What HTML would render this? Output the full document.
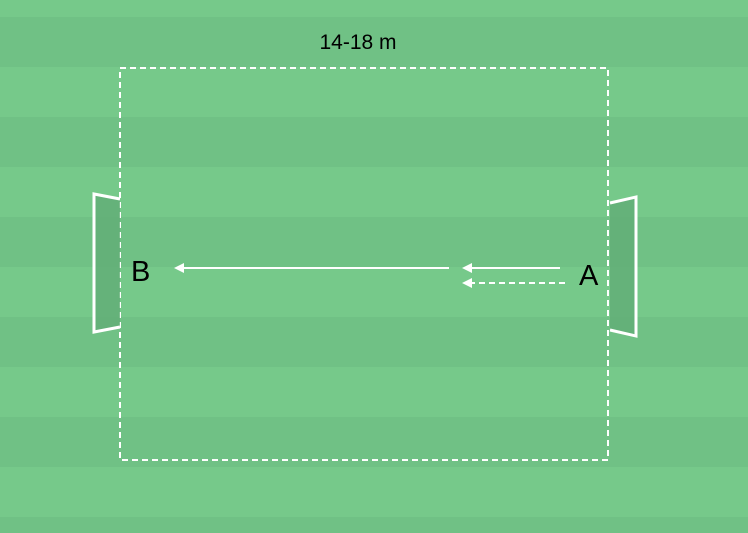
<!DOCTYPE html>
<html><head><style>
body{margin:0;width:748px;height:533px;overflow:hidden;}
</style></head><body>
<svg width="748" height="533" xmlns="http://www.w3.org/2000/svg" style="display:block">
<rect width="748" height="533" fill="#76c98a"/>
<g fill="#70c185">
<rect y="17" width="748" height="50"/>
<rect y="117" width="748" height="50"/>
<rect y="217" width="748" height="50"/>
<rect y="317" width="748" height="50"/>
<rect y="417" width="748" height="50"/>
<rect y="517" width="748" height="16"/>
</g>
<rect x="120" y="68" width="488" height="392" fill="none" stroke="#fff" stroke-width="2" stroke-dasharray="6,4"/>
<polygon points="94,194 120,199 120,327 94,332" fill="#62ad76" fill-opacity="0.8" stroke="none"/>
<polyline points="120,199 94,194 94,332 120,327" fill="none" stroke="#fff" stroke-width="3"/>
<polygon points="610,203 636,197 636,336 610,330" fill="#62ad76" fill-opacity="0.8"/>
<polyline points="610,203 636,197 636,336 610,330" fill="none" stroke="#fff" stroke-width="3"/>
<line x1="449" y1="268" x2="182" y2="268" stroke="#fff" stroke-width="2"/>
<polygon points="174,268 184,263 184,273" fill="#fff"/>
<line x1="560" y1="268" x2="470" y2="268" stroke="#fff" stroke-width="2"/>
<polygon points="462,268 472,263 472,273" fill="#fff"/>
<line x1="565" y1="283" x2="470" y2="283" stroke="#fff" stroke-width="2" stroke-dasharray="6,4"/>
<polygon points="462,283 472,278 472,288" fill="#fff"/>
<text x="131" y="281" font-family="Liberation Sans, sans-serif" font-size="29" fill="#000">B</text>
<text x="579" y="285" font-family="Liberation Sans, sans-serif" font-size="29" fill="#000">A</text>
<text x="358" y="49" font-family="Liberation Sans, sans-serif" font-size="21" fill="#000" text-anchor="middle">14-18 m</text>
</svg>
</body></html>
